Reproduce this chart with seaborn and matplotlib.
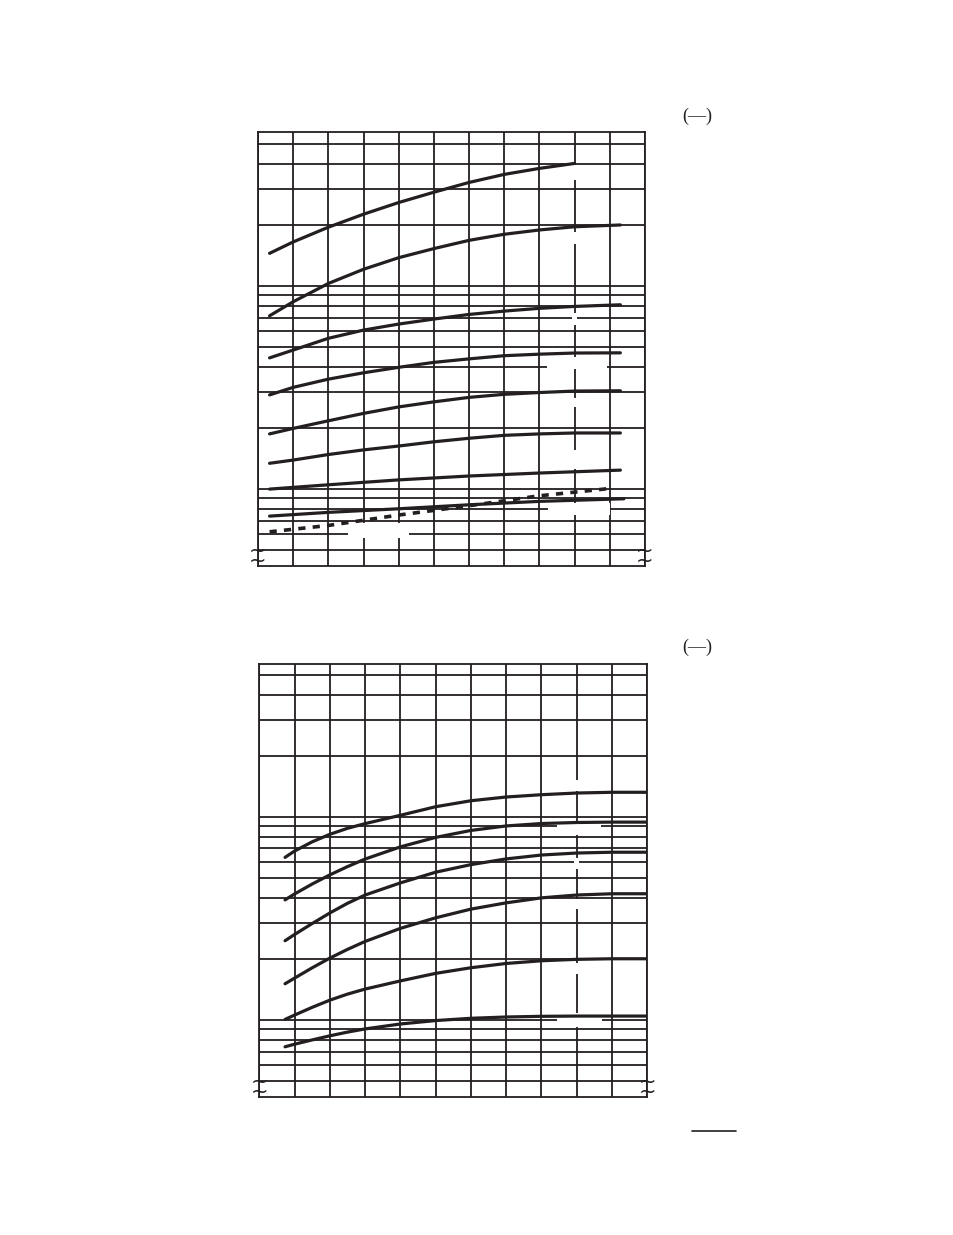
import matplotlib.pyplot as plt
import seaborn as sns
from matplotlib.lines import Line2D
from matplotlib.patches import Rectangle
from matplotlib.ticker import NullLocator

sns.set_theme(style="white")
plt.rcParams['font.family'] = ['Liberation Serif', 'DejaVu Serif']

ink = '#231f20'

# grid
x_grid = list(range(12))
y_grid = [0.5, 0.6, 0.7, 0.8, 0.9, 1, 2, 3, 4, 5, 6, 7, 8, 9, 10, 20, 30, 40, 50]

# upper chart
top_x = [0.33, 1, 2, 3, 4, 5, 6, 7, 8, 9, 10.3]
t1 = [14.5, 16.5, 19.5, 22.6, 25.8, 29.0, 32.4, 35.5, 38.0, 40.2]
t2 = [7.14, 8.37, 10.3, 12.1, 13.8, 15.3, 16.8, 18.0, 18.9, 19.6, 20.0]
t3 = [4.43, 4.84, 5.53, 6.07, 6.50, 6.88, 7.25, 7.53, 7.77, 7.94, 8.09]
t4 = [2.91, 3.17, 3.48, 3.74, 3.98, 4.21, 4.38, 4.54, 4.62, 4.68, 4.69]
t5 = [1.87, 1.99, 2.17, 2.36, 2.54, 2.69, 2.83, 2.93, 2.99, 3.04, 3.05]
t6 = [1.34, 1.39, 1.48, 1.56, 1.63, 1.71, 1.78, 1.84, 1.87, 1.89, 1.89]
t7_x = [0.33, 2, 4, 6, 8, 10.3]
t7 = [1.00, 1.05, 1.11, 1.16, 1.20, 1.24]
t8_x = [0.33, 2, 4, 6, 8, 10.4]
t8 = [0.736, 0.768, 0.800, 0.837, 0.870, 0.896]
td_x = [0.33, 2, 4, 6, 8, 10.1]
td = [0.616, 0.662, 0.745, 0.828, 0.927, 1.011]

# lower chart
bot_x = [0.73, 1, 1.5, 2, 2.5, 3, 4, 5, 6, 7, 8, 9, 10, 11]
b1 = [6.33, 6.80, 7.55, 8.22, 8.80, 9.28, 10.2, 11.24, 12.03, 12.55, 12.88, 13.13, 13.24, 13.24]
b2 = [3.91, 4.18, 4.68, 5.19, 5.70, 6.21, 7.13, 7.94, 8.59, 9.04, 9.29, 9.40, 9.44, 9.44]
b3 = [2.46, 2.64, 2.99, 3.37, 3.76, 4.13, 4.74, 5.35, 5.83, 6.22, 6.50, 6.65, 6.71, 6.71]
b4 = [1.51, 1.61, 1.81, 2.02, 2.23, 2.44, 2.83, 3.19, 3.52, 3.78, 4.00, 4.13, 4.19, 4.19]
b5 = [1.008, 1.059, 1.156, 1.254, 1.343, 1.422, 1.560, 1.699, 1.811, 1.901, 1.960, 1.992, 2.005, 2.005]
b6 = [0.739, 0.761, 0.799, 0.837, 0.873, 0.905, 0.957, 0.995, 1.021, 1.036, 1.044, 1.047, 1.047, 1.047]

# blank label backgrounds that interrupt the grid (x0, x1, y0, y1)
top_blanks = [(8.21, 9.91, 3.90, 4.47), (2.56, 4.29, 0.573, 0.68), (8.24, 10.0, 0.744, 0.853),
              (8.93, 9.07, 33.3, 39.4), (8.93, 9.07, 16.1, 18.5), (8.93, 9.07, 6.43, 7.36),
              (8.93, 9.07, 2.53, 2.81), (8.93, 9.07, 1.255, 1.556)]
bot_blanks = [(8.43, 9.68, 8.15, 9.55), (8.45, 9.73, 0.924, 1.083),
              (8.93, 9.07, 13.5, 15.2), (8.93, 9.07, 5.54, 6.28), (8.93, 9.07, 3.52, 3.94),
              (8.93, 9.07, 1.686, 1.91)]

fig = plt.figure(figsize=(9.54, 12.35), dpi=100)
ax_top = fig.add_axes([0.2704, 0.5417, 0.4057, 0.3514])
ax_bot = fig.add_axes([0.2718, 0.1117, 0.4067, 0.3504])


def setup(ax, ytop, blanks, ybreak):
    ax.set_yscale('log')
    ax.set_xlim(0, 11)
    ax.set_ylim(0.418, ytop)
    ax.set_xticks(x_grid)
    ax.set_yticks(y_grid)
    ax.yaxis.set_minor_locator(NullLocator())
    ax.set_xticklabels([])
    ax.set_yticklabels([])
    ax.tick_params(length=0)
    ax.set_axisbelow(True)
    ax.grid(True, color=ink, lw=1.3)
    for s in ax.spines.values():
        s.set_color(ink)
        s.set_linewidth(1.3)
    for x0, x1, y0, y1 in blanks:
        ax.add_patch(Rectangle((x0, y0), x1 - x0, y1 - y0, facecolor='white',
                               edgecolor='none', zorder=2))
    # axis break marks
    for xa in (0, 1):
        ax.text(xa, ybreak, '~\n~', transform=ax.transAxes, ha='center', va='center',
                fontsize=15, linespacing=0.36, family='DejaVu Sans', color=ink,
                clip_on=False)


setup(ax_top, 57.4, top_blanks, 0.0235)
setup(ax_bot, 56.5, bot_blanks, 0.024)

lw = 2.3
sns.lineplot(x=top_x[:len(t1)], y=t1, ax=ax_top, color=ink, lw=lw, zorder=3)
for ys in (t2, t3, t4, t5, t6):
    sns.lineplot(x=top_x, y=ys, ax=ax_top, color=ink, lw=lw, zorder=3)
sns.lineplot(x=t7_x, y=t7, ax=ax_top, color=ink, lw=lw, zorder=3)
sns.lineplot(x=t8_x, y=t8, ax=ax_top, color=ink, lw=lw, zorder=3)
sns.lineplot(x=td_x, y=td, ax=ax_top, color=ink, lw=2.6, zorder=3,
             linestyle=(0, (2, 2)))

for ys in (b1, b2, b3, b4, b5, b6):
    sns.lineplot(x=bot_x, y=ys, ax=ax_bot, color=ink, lw=lw, zorder=3)

for ax in (ax_top, ax_bot):
    ax.set_xlabel('')
    ax.set_ylabel('')

fig.text(0.7306, 0.906, '(—)', ha='center', va='center', fontsize=13, color=ink)
fig.text(0.7306, 0.4761, '(—)', ha='center', va='center', fontsize=13, color=ink)
fig.add_artist(Line2D([692 / 954, 736 / 954], [1 - 1131 / 1235, 1 - 1131 / 1235],
                      color=ink, lw=1.2))

fig.savefig('out.png', dpi=100, facecolor='white')
